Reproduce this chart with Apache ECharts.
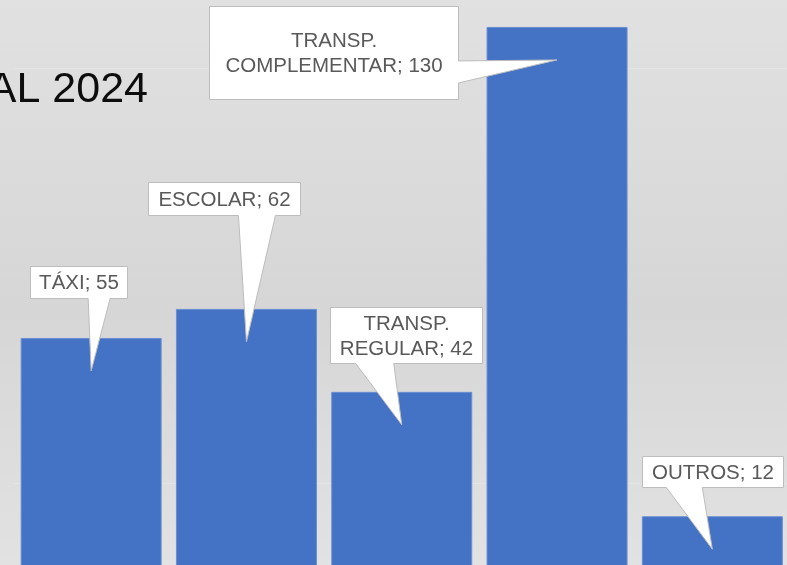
<!DOCTYPE html>
<html>
<head>
<meta charset="utf-8">
<script src="https://cdn.jsdelivr.net/npm/echarts@6/dist/echarts.min.js"></script>
<style>
  html, body { margin: 0; padding: 0; }
  #chart { width: 787px; height: 565px; }
</style>
</head>
<body>
<div id="chart"></div>
<script>
const categories = ['TÁXI', 'ESCOLAR', 'TRANSP.\nREGULAR', 'TRANSP.\nCOMPLEMENTAR', 'OUTROS'];
const values = [55, 62, 42, 130, 12];
const titleText = 'AL 2024';

// callout boxes, in pixels relative to the top centre of each bar
const callouts = [
  { box: [-61, 36, -72, -40], side: 'bottom', base: [-3, 19] },
  { box: [-98, 54, -127, -94], side: 'bottom', base: [-8, 29] },
  { box: [-72, 80, -85, -29], side: 'bottom', base: [-46, -8] },
  { box: [-348, -99, -21, 72], side: 'right', base: [34, 56] },
  { box: [-70, 71, -60, -29], side: 'bottom', base: [-46, -10] }
];

const font = 'Liberation Sans, Arial, sans-serif';
const chart = echarts.init(document.getElementById('chart'));
const none = 'rgba(0,0,0,0)';

chart.setOption({
  backgroundColor: {
    type: 'linear', x: 0, y: 0, x2: 0, y2: 1,
    colorStops: [
      { offset: 0, color: '#e1e1e1' },
      { offset: 0.55, color: '#d6d6d6' },
      { offset: 1, color: '#e2e2e2' }
    ]
  },
  animation: false,
  graphic: [{
    type: 'text',
    x: 148, y: 90,
    style: {
      text: titleText, align: 'right', verticalAlign: 'middle',
      fontSize: 43, fontFamily: font, fill: '#0d0d0d'
    }
  }],
  grid: { left: 13.5, width: 776.5, top: 0, height: 566, outerBoundsMode: 'none' },
  xAxis: {
    type: 'category',
    data: categories,
    axisLine: { show: false },
    axisTick: { show: false },
    axisLabel: { show: false }
  },
  yAxis: {
    type: 'value',
    min: 0,
    max: 136.5,
    interval: 20,
    axisLabel: { show: false },
    axisLine: { show: false },
    axisTick: { show: false },
    splitLine: {
      lineStyle: { color: [none, '#e4e4e4', none, none, none, none, '#e4e4e4', none], width: 1 }
    }
  },
  series: [
    {
      type: 'bar',
      data: values,
      barWidth: 141,
      itemStyle: { color: '#4472C4', borderColor: '#6a8ed2', borderWidth: 1 }
    },
    {
      type: 'custom',
      clip: false,
      z: 5,
      data: values.map((v, i) => [i, v]),
      renderItem: function (params, api) {
        const i = params.dataIndex;
        const p = api.coord([api.value(0), api.value(1)]);
        const c = callouts[i];
        const x0 = Math.round(p[0] + c.box[0]) + 0.5, x1 = Math.round(p[0] + c.box[1]) + 0.5;
        const y0 = Math.round(p[1] + c.box[2]) + 0.5, y1 = Math.round(p[1] + c.box[3]) + 0.5;
        const tip = [p[0], p[1] + 33];
        let pts;
        if (c.side === 'bottom') {
          pts = [[x0, y0], [x1, y0], [x1, y1], [p[0] + c.base[1], y1], tip, [p[0] + c.base[0], y1], [x0, y1]];
        } else {
          pts = [[x0, y0], [x1, y0], [x1, p[1] + c.base[0]], tip, [x1, p[1] + c.base[1]], [x1, y1], [x0, y1]];
        }
        return {
          type: 'group',
          children: [
            { type: 'polygon', shape: { points: pts }, style: { fill: '#ffffff', stroke: '#bdbdbd', lineWidth: 1 } },
            {
              type: 'text',
              style: {
                text: categories[i] + '; ' + values[i],
                x: (x0 + x1) / 2, y: (y0 + y1) / 2 + 1,
                align: 'center', verticalAlign: 'middle',
                fontSize: 20.5, fontFamily: font, fill: '#595959', lineHeight: 25
              }
            }
          ]
        };
      }
    }
  ]
});
</script>
</body>
</html>
